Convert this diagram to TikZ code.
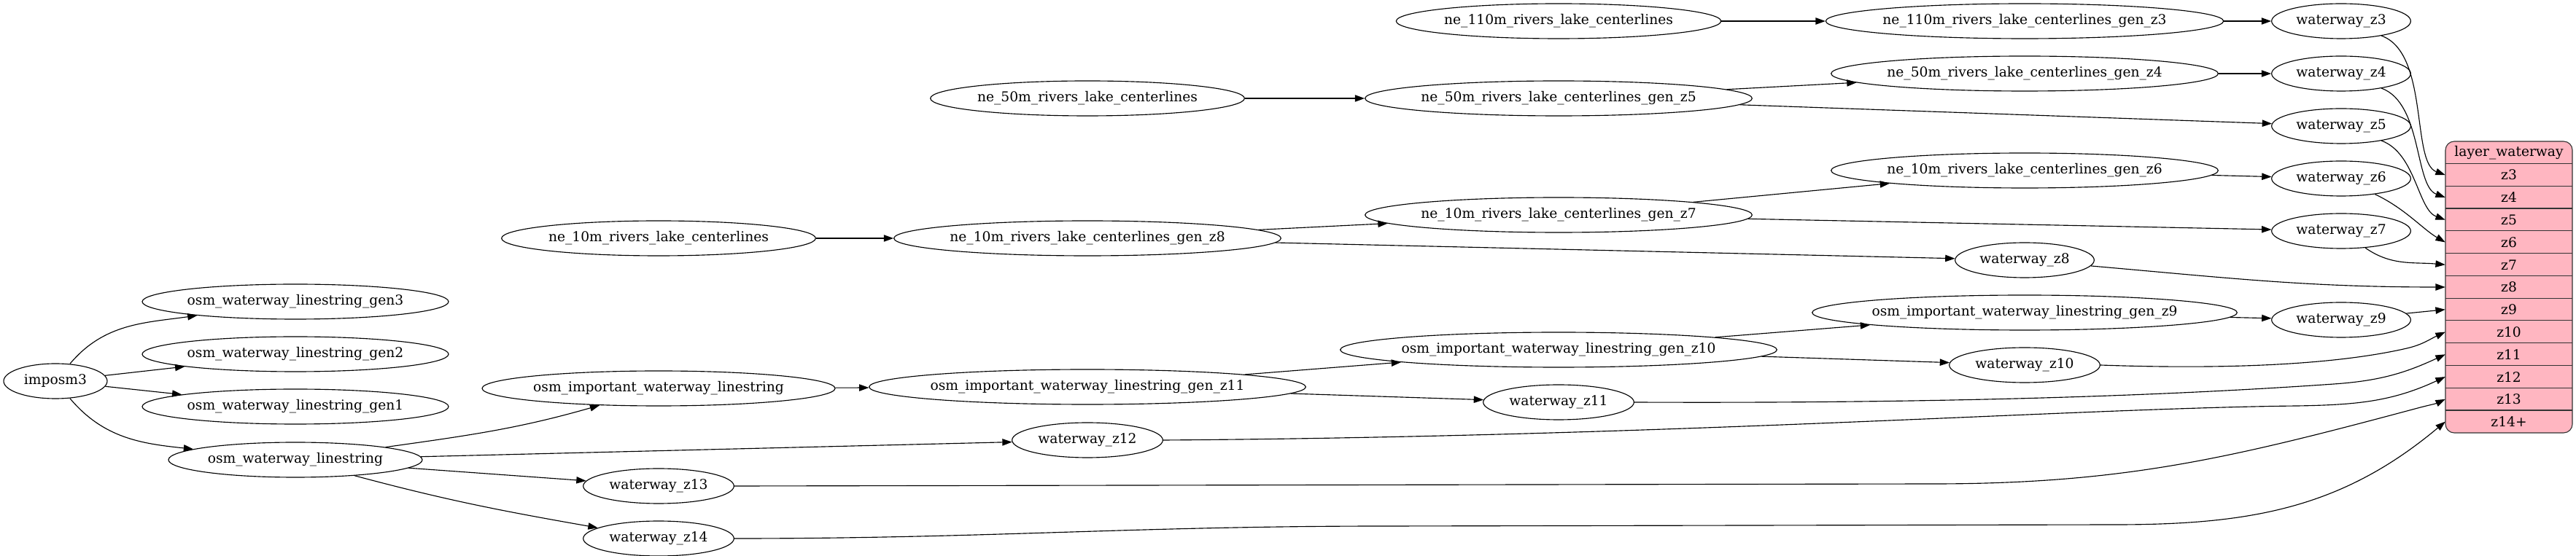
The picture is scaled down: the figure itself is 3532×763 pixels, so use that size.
\documentclass[tikz,border=0pt]{standalone}
\usepackage{fontspec}
\setmainfont{DejaVu Serif}
\usetikzlibrary{arrows.meta,shapes.geometric}
\definecolor{layerpink}{HTML}{FFB6C1}
\tikzset{
  tbl/.style={draw, ellipse, line width=0.85pt, minimum height=36pt, inner xsep=-20pt, inner ysep=0pt, minimum width=#1},
  cell/.style={minimum width=130.5pt, minimum height=23.08pt, inner sep=0pt},
  flow/.style={line width=0.85pt, -{Triangle[length=10pt,width=7pt]}},
}
\begin{document}
\begin{tikzpicture}[x=0.75pt, y=0.75pt, font=\fontsize{14}{16}\selectfont]
\useasboundingbox (0,0) rectangle (3532,763);
% rank columns
\pgfmathsetmacro{\ra}{76}
\pgfmathsetmacro{\rb}{405}
\pgfmathsetmacro{\rc}{903}
\pgfmathsetmacro{\rd}{1491}
\pgfmathsetmacro{\re}{2137}
\pgfmathsetmacro{\rf}{2776}
\pgfmathsetmacro{\rg}{3210}
% sources
\node[tbl=106.5pt] (imposm) at (\ra,240) {imposm3};
\node[tbl=315pt] (gen3) at (\rb,349) {osm\_waterway\_linestring\_gen3};
\node[tbl=315pt] (gen2) at (\rb,277) {osm\_waterway\_linestring\_gen2};
\node[tbl=315pt] (gen1) at (\rb,205) {osm\_waterway\_linestring\_gen1};
\node[tbl=261pt] (osmwl) at (\rb,132) {osm\_waterway\_linestring};
\node[tbl=323pt] (ne10) at (\rc,436) {ne\_10m\_rivers\_lake\_centerlines};
\node[tbl=363pt] (osmiwl) at (\rc,230) {osm\_important\_waterway\_linestring};
\node[tbl=155pt] (wz13) at (\rc,96) {waterway\_z13};
\node[tbl=155pt] (wz14) at (\rc,24) {waterway\_z14};
\node[tbl=323pt] (ne50) at (\rd,628) {ne\_50m\_rivers\_lake\_centerlines};
\node[tbl=398pt] (ne10z8) at (\rd,436) {ne\_10m\_rivers\_lake\_centerlines\_gen\_z8};
\node[tbl=449pt] (iwz11) at (\rd,232) {osm\_important\_waterway\_linestring\_gen\_z11};
\node[tbl=155pt] (wz12) at (\rd,159) {waterway\_z12};
\node[tbl=334pt] (ne110) at (\re,734) {ne\_110m\_rivers\_lake\_centerlines};
\node[tbl=398pt] (ne50z5) at (\re,628) {ne\_50m\_rivers\_lake\_centerlines\_gen\_z5};
\node[tbl=398pt] (ne10z7) at (\re,468) {ne\_10m\_rivers\_lake\_centerlines\_gen\_z7};
\node[tbl=449pt] (iwz10) at (\re,283) {osm\_important\_waterway\_linestring\_gen\_z10};
\node[tbl=155pt] (wz11) at (\re,211) {waterway\_z11};
\node[tbl=409pt] (ne110z3) at (\rf,734) {ne\_110m\_rivers\_lake\_centerlines\_gen\_z3};
\node[tbl=398pt] (ne50z4) at (\rf,662) {ne\_50m\_rivers\_lake\_centerlines\_gen\_z4};
\node[tbl=398pt] (ne10z6) at (\rf,529) {ne\_10m\_rivers\_lake\_centerlines\_gen\_z6};
\node[tbl=143pt] (wz8) at (\rf,406) {waterway\_z8};
\node[tbl=437pt] (iwz9) at (\rf,334) {osm\_important\_waterway\_linestring\_gen\_z9};
\node[tbl=155pt] (wz10) at (\rf,262) {waterway\_z10};
\node[tbl=143pt] (wz3) at (\rg,734) {waterway\_z3};
\node[tbl=143pt] (wz4) at (\rg,662) {waterway\_z4};
\node[tbl=143pt] (wz5) at (\rg,590) {waterway\_z5};
\node[tbl=143pt] (wz6) at (\rg,518) {waterway\_z6};
\node[tbl=143pt] (wz7) at (\rg,446) {waterway\_z7};
\node[tbl=143pt] (wz9) at (\rg,324) {waterway\_z9};
% layer table
\node[draw=black!80, fill=layerpink, line width=0.85pt, rounded corners=9pt, minimum width=130.5pt, minimum height=300pt] (layer) at (3440,369) {};
\node[cell] (lhead) at (3440,553.6) {layer\_waterway};
\foreach \z in {3,...,13}
  \node[cell] (lz\z) at (3440,{569-30.77*(\z-1.5)}) {z\z};
\node[cell] (lz14) at (3440,184.4) {z14+};
\foreach \z in {3,...,14}
  \draw[black!80, line width=0.85pt] (lz\z.north west) -- (lz\z.north east);
% imposm3 branch
\draw[flow] (imposm) to[out=50, in=188] (gen3);
\draw[flow] (imposm) -- (gen2);
\draw[flow] (imposm) -- (gen1);
\draw[flow] (imposm) to[out=-50, in=174] (osmwl);
\draw[flow] (osmwl) to[out=8, in=196] (osmiwl);
\draw[flow] (osmwl) -- (wz12);
\draw[flow] (osmwl) -- (wz13);
\draw[flow] (osmwl) to[out=-15, in=170] (wz14);
\draw[flow] (osmiwl) -- (iwz11);
\draw[flow] (iwz11) -- (iwz10);
\draw[flow] (iwz11) -- (wz11);
\draw[flow] (iwz10) -- (iwz9);
\draw[flow] (iwz10) -- (wz10);
\draw[flow] (iwz9) -- (wz9);
% natural earth branches
\draw[flow] (ne10) -- (ne10z8);
\draw[flow] (ne10z8) -- (ne10z7);
\draw[flow] (ne10z8) -- (wz8);
\draw[flow] (ne10z7) -- (ne10z6);
\draw[flow] (ne10z7) -- (wz7);
\draw[flow] (ne10z6) -- (wz6);
\draw[flow] (ne50) -- (ne50z5);
\draw[flow] (ne50z5) -- (ne50z4);
\draw[flow] (ne50z5) -- (wz5);
\draw[flow] (ne50z4) -- (wz4);
\draw[flow] (ne110) -- (ne110z3);
\draw[flow] (ne110z3) -- (wz3);
% into the layer
\draw[flow] (wz3.-20) .. controls +(-20:70) and +(160:50) .. (lz3.west);
\draw[flow] (wz4.-20) .. controls +(-20:60) and +(160:45) .. (lz4.west);
\draw[flow] (wz5.-20) .. controls +(-20:50) and +(160:40) .. (lz5.west);
\draw[flow] (wz6.-25) .. controls +(-25:45) and +(150:35) .. (lz6.west);
\draw[flow] (wz7) to[out=-35, in=175] (lz7.west);
\draw[flow] (wz8) to[out=-5, in=180] (lz8.west);
\draw[flow] (wz9) -- (lz9.west);
\draw[flow] (wz10.east) .. controls (3050,256) and (3200,262) .. (3300,285) to[out=13, in=205] (lz10.west);
\draw[flow] (wz11.east) .. controls (2700,209) and (3000,222) .. (3200,236) to[out=4, in=205] (lz11.west);
\draw[flow] (wz12.east) .. controls (2300,164) and (2850,203) .. (3150,206) to[out=1, in=205] (lz12.west);
\draw[flow] (wz13.east) -- (2650,99) to[out=0, in=195] (3315,203) to[out=15, in=205] (lz13.west);
\draw[flow] (wz14.east) to[out=0, in=180] (1900,41) -- (2900,43) to[out=0, in=220] (lz14.west);
\end{tikzpicture}
\end{document}
